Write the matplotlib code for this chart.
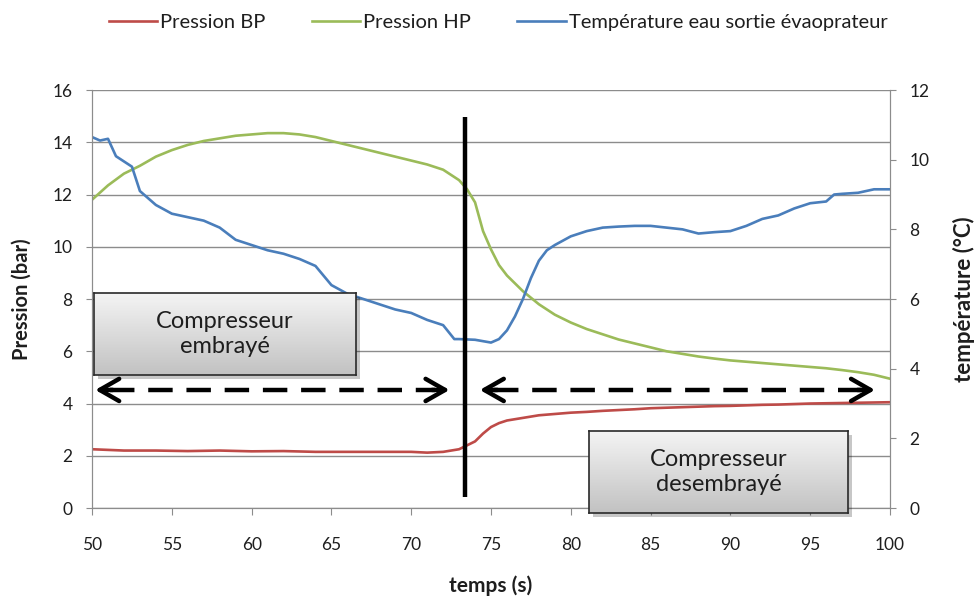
import matplotlib; matplotlib.use('Agg')
import matplotlib.pyplot as plt
import numpy as np
from matplotlib.patches import Rectangle
from matplotlib.colors import LinearSegmentedColormap

plt.rcParams['font.family'] = ['Lato', 'DejaVu Sans']

# --- donnees ---
t_hp = [50, 51, 52, 53, 54, 55, 56, 57, 58, 59, 60, 61, 62, 63, 64, 65, 66, 67, 68, 69,
        70, 71, 72, 73, 73.5, 74, 74.5, 75, 75.5, 76, 77, 78, 79, 80, 81, 82, 83, 84, 85,
        86, 87, 88, 89, 90, 91, 92, 93, 94, 95, 96, 97, 98, 99, 100]
p_hp = [11.8, 12.35, 12.8, 13.1, 13.45, 13.7, 13.9, 14.05, 14.15, 14.25, 14.3, 14.35, 14.35,
        14.3, 14.2, 14.05, 13.9, 13.75, 13.6, 13.45, 13.3, 13.15, 12.95, 12.55, 12.2, 11.7,
        10.6, 9.9, 9.3, 8.9, 8.3, 7.8, 7.4, 7.1, 6.85, 6.65, 6.45, 6.3, 6.15, 6.0, 5.9, 5.8,
        5.72, 5.65, 5.6, 5.55, 5.5, 5.45, 5.4, 5.35, 5.28, 5.2, 5.1, 4.95]

t_bp = [50, 52, 54, 56, 58, 60, 62, 64, 66, 68, 70, 71, 72, 73, 73.5, 74, 74.5, 75, 75.5,
        76, 77, 78, 79, 80, 81, 82, 83, 84, 85, 86, 87, 88, 89, 90, 91, 92, 93, 94, 95, 96,
        97, 98, 99, 100]
p_bp = [2.25, 2.2, 2.2, 2.18, 2.2, 2.17, 2.18, 2.15, 2.15, 2.15, 2.15, 2.12, 2.15, 2.25,
        2.4, 2.55, 2.85, 3.1, 3.25, 3.35, 3.45, 3.55, 3.6, 3.65, 3.68, 3.72, 3.75, 3.78,
        3.82, 3.84, 3.86, 3.88, 3.9, 3.91, 3.93, 3.95, 3.96, 3.98, 4.0, 4.01, 4.02, 4.03,
        4.04, 4.05]

t_temp = [50, 50.5, 51, 51.5, 52, 52.5, 53, 54, 55, 56, 57, 58, 59, 60, 61, 62, 63, 64,
          65, 66, 67, 68, 69, 70, 71, 72, 72.7, 73, 74, 75, 75.5, 76, 76.5, 77, 77.5, 78,
          78.5, 79, 80, 81, 82, 83, 84, 85, 86, 87, 88, 89, 90, 91, 92, 93, 94, 95, 96,
          96.5, 97, 98, 99, 100]
temp = [10.65, 10.55, 10.6, 10.1, 9.95, 9.8, 9.1, 8.7, 8.45, 8.35, 8.25, 8.05, 7.7, 7.55,
        7.4, 7.3, 7.15, 6.95, 6.4, 6.15, 6.0, 5.85, 5.7, 5.6, 5.4, 5.25, 4.85, 4.85, 4.83,
        4.75, 4.85, 5.1, 5.5, 6.0, 6.6, 7.1, 7.4, 7.55, 7.8, 7.95, 8.05, 8.08, 8.1, 8.1,
        8.05, 8.0, 7.88, 7.92, 7.95, 8.1, 8.3, 8.4, 8.6, 8.75, 8.8, 9.0, 9.02, 9.05, 9.15,
        9.15]

t_switch = 73.4

RED, GREEN, BLUE = '#BE4B48', '#9BBB59', '#4A7EBB'
GRID = '#8C8C8C'
TXT = '#1E1E1E'

fig = plt.figure(figsize=(9.75, 6.01), dpi=100)
ax = fig.add_axes([0.0944, 0.1547, 0.8184, 0.6955])
ax2 = ax.twinx()

l1, = ax.plot(t_bp, p_bp, color=RED, lw=1.9, label='Pression BP')
l2, = ax.plot(t_hp, p_hp, color=GREEN, lw=1.9, label='Pression HP')
l3, = ax2.plot(t_temp, temp, color=BLUE, lw=1.9, label='Température eau sortie évaoprateur')

ax.set_xlim(50, 100); ax.set_ylim(0, 16)
ax2.set_ylim(0, 12)
ax.set_xticks(range(50, 101, 5))
ax.set_yticks(range(0, 17, 2))
ax2.set_yticks(range(0, 13, 2))
ax.yaxis.grid(True, color=GRID, lw=1.0)
ax.set_axisbelow(True)

for a in (ax, ax2):
    for s in a.spines.values():
        s.set_color(GRID)
    a.spines['top'].set_visible(False)
ax.tick_params(axis='x', direction='out', length=5, color=GRID, pad=16, labelsize=12.5, labelcolor=TXT)
ax.tick_params(axis='y', direction='out', length=4, color=GRID, pad=10, labelsize=12.5, labelcolor=TXT)
ax2.tick_params(axis='y', direction='out', length=4, color=GRID, pad=10, labelsize=12.5, labelcolor=TXT)

ax.set_xlabel('temps (s)', fontsize=15, fontweight='bold', labelpad=16, color=TXT)
ax.set_ylabel('Pression (bar)', fontsize=14.5, fontweight='bold', labelpad=15, color=TXT)
ax2.set_ylabel('température (°C)', fontsize=16, fontweight='bold', labelpad=17, color=TXT)

# trait vertical (changement d'etat)
ax2.plot([t_switch, t_switch], [0.42, 14.97], color='black', lw=3.2,
         transform=ax.transData, solid_capstyle='butt', zorder=6)

# fleches en pointilles
def fleche(x0, x1, y):
    ax2.plot([x0 + 0.9, x1 - 0.9], [y, y], color='black', lw=3.2, dashes=(5.5, 3.1),
             dash_capstyle='butt', transform=ax.transData, zorder=6)
    for xa, xb in ((x0 + 1.1, x0), (x1 - 1.1, x1)):
        ax2.annotate('', xy=(xb, y), xytext=(xa, y), xycoords=ax.transData,
                     textcoords=ax.transData, zorder=6,
                     arrowprops=dict(arrowstyle='->,head_length=1.4,head_width=0.8',
                                     lw=3.2, color='black', shrinkA=0, shrinkB=0))

fleche(50.2, 72.4, 4.52)
fleche(74.3, 99.06, 4.52)

# encadres "Compresseur"
grad = np.linspace(0, 1, 100).reshape(-1, 1)
cmap_box = LinearSegmentedColormap.from_list('g', ['#F4F4F4', '#C2C2C2'])
def encadre(x, y, w, h, texte):
    fig.patches.append(Rectangle((x + 0.004, y - 0.006), w, h, transform=fig.transFigure,
                                 facecolor='#000000', alpha=0.22, edgecolor='none', zorder=8))
    bx = fig.add_axes([x, y, w, h], zorder=9)
    bx.imshow(grad, cmap=cmap_box, aspect='auto', extent=(0, 1, 0, 1), origin='upper')
    bx.set_xticks([]); bx.set_yticks([])
    for s in bx.spines.values():
        s.set_color('#2a2a2a'); s.set_linewidth(1.2)
    bx.text(0.5, 0.5, texte, ha='center', va='center', fontsize=17, color=TXT,
            linespacing=1.25, transform=bx.transAxes)

encadre(0.0964, 0.376, 0.2687, 0.1364, 'Compresseur\nembrayé')
encadre(0.6041, 0.1464, 0.2656, 0.1364, 'Compresseur\ndesembrayé')

fig.legend(handles=[l1, l2, l3], loc='center', bbox_to_anchor=(0.511, 0.963), ncol=3,
           frameon=False, fontsize=14.5, handlelength=2.4, handletextpad=0.15,
           columnspacing=2.3, labelcolor=TXT)

fig.savefig('out.png', dpi=100)
